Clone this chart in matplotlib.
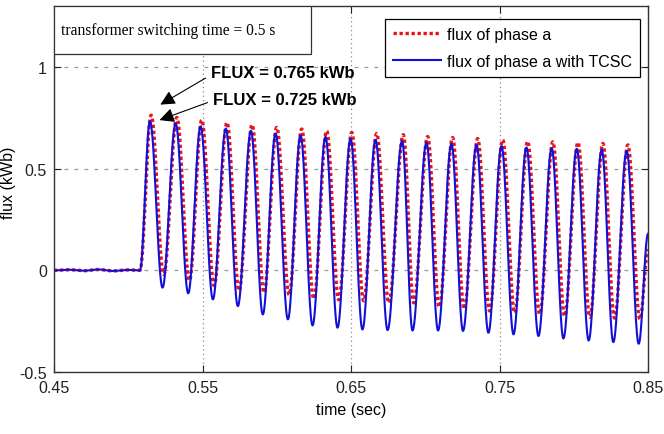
import numpy as np
import matplotlib
matplotlib.use("Agg")
from matplotlib import pyplot as plt

# values
pre_t = [0.45, 0.46, 0.47, 0.48, 0.49, 0.50, 0.5079]
pre_v = [0.0, 0.003, -0.002, 0.004, -0.003, 0.002, 0.0]

peak_t = [0.5146, 0.5319, 0.5487, 0.5657, 0.5826, 0.5992, 0.6160, 0.6328, 0.6497, 0.6665,
          0.6844, 0.7008, 0.7176, 0.7345, 0.7513, 0.7681, 0.7851, 0.8020, 0.8188, 0.8356]
trough_t = [0.5231, 0.5404, 0.5570, 0.5738, 0.5906, 0.6075, 0.6241, 0.6409, 0.6577, 0.6746,
            0.6914, 0.7086, 0.7254, 0.7425, 0.7594, 0.7762, 0.7930, 0.8100, 0.8266, 0.8437]

red_peak = [0.763, 0.752, 0.739, 0.727, 0.716, 0.703, 0.695, 0.686, 0.678, 0.673,
            0.667, 0.658, 0.653, 0.648, 0.642, 0.634, 0.632, 0.629, 0.624, 0.617]
red_trough = [-0.02, -0.05, -0.075, -0.10, -0.11, -0.12, -0.14, -0.145, -0.15, -0.16,
              -0.16, -0.18, -0.19, -0.20, -0.21, -0.215, -0.225, -0.23, -0.235, -0.24]
blue_peak = [0.733, 0.722, 0.708, 0.697, 0.686, 0.673, 0.664, 0.656, 0.648, 0.642,
             0.636, 0.628, 0.622, 0.617, 0.611, 0.604, 0.601, 0.598, 0.593, 0.587]
blue_trough = [-0.085, -0.113, -0.143, -0.176, -0.217, -0.241, -0.271, -0.282, -0.291, -0.294,
               -0.296, -0.296, -0.298, -0.307, -0.315, -0.323, -0.335, -0.345, -0.353, -0.361]
end_t = 0.85
red_end = 0.10
blue_end = 0.18

x_ticks = [0.45, 0.55, 0.65, 0.75, 0.85]
y_ticks = [-0.5, 0, 0.5, 1]


def wave(knot_t, knot_v, n=40):
    # half cosine between each pair of read extrema
    ts, vs = [], []
    for i in range(len(knot_t) - 1):
        s = np.linspace(0, 1, n, endpoint=False)
        ts.append(knot_t[i] + (knot_t[i + 1] - knot_t[i]) * s)
        vs.append(knot_v[i] + (knot_v[i + 1] - knot_v[i]) * (1 - np.cos(np.pi * s)) / 2)
    ts.append([knot_t[-1]])
    vs.append([knot_v[-1]])
    return np.concatenate(ts), np.concatenate(vs)


def knots(peaks, troughs, end_v, lag=0.0):
    t = list(pre_t)
    v = list(pre_v)
    for i in range(len(peaks)):
        t += [peak_t[i] + lag, trough_t[i] + lag]
        v += [peaks[i], troughs[i]]
    t.append(end_t)
    v.append(end_v)
    return t, v


plt.rcParams["font.family"] = ["Liberation Sans", "DejaVu Sans"]
fs = 11.5

fig = plt.figure(figsize=(6.64, 4.35), dpi=100)
ax = fig.add_axes([0.0813, 0.1425, 0.8947, 0.8415])

rt, rv = knots(red_peak, red_trough, red_end, lag=0.0008)
bt, bv = knots(blue_peak, blue_trough, blue_end)
rx, ry = wave(rt, rv)
bx, by = wave(bt, bv)

ax.plot(rx, ry, color="#e8141c", lw=2.4, ls=(0, (1, 0.8)), label="flux of phase a")
ax.plot(bx, by, color="#1010d8", lw=1.5, label="flux of phase a with TCSC")

ax.set_xlim(0.45, 0.85)
ax.set_ylim(-0.5, 1.3)
ax.set_xticks(x_ticks)
ax.set_xticklabels(["%.2f" % x for x in x_ticks])
ax.set_yticks(y_ticks)
ax.set_yticklabels(["-0.5", "0", "0.5", "1"])
ax.tick_params(direction="in", length=5, top=True, right=True, labelsize=fs, colors="#222222")
ax.tick_params(axis="x", pad=6)
ax.tick_params(axis="y", pad=5)

for x in x_ticks[1:-1]:
    ax.axvline(x, color="#888888", lw=0.9, ls=(0, (1, 2.5)), zorder=0)
for y in y_ticks[1:]:
    ax.axhline(y, color="#999999", lw=0.9, ls=(0, (3, 5)), zorder=0)

for s in ax.spines.values():
    s.set_color("#333333")
    s.set_linewidth(1.0)

ax.set_xlabel("time (sec)", fontsize=fs, labelpad=5)
ax.set_ylabel("flux (kWb)", fontsize=fs)
ax.yaxis.set_label_coords(-0.064, 0.52)

leg = ax.legend(loc="upper right", bbox_to_anchor=(0.987, 0.965), fontsize=fs,
                handlelength=3.0, borderpad=0.5, labelspacing=0.75, handletextpad=0.4,
                fancybox=False, framealpha=1, edgecolor="black", borderaxespad=0)
leg.get_frame().set_linewidth(0.9)

# boxed note in the top left corner
ax.add_patch(plt.Rectangle((0, 0.869), 0.433, 0.131, transform=ax.transAxes,
                           facecolor="white", edgecolor="#333333", lw=0.9, zorder=5))
ax.text(0.012, 0.934, "transformer switching time = 0.5 s", transform=ax.transAxes,
        family="Liberation Serif", fontsize=11.2, va="center", ha="left", zorder=6)

arrow = dict(arrowstyle="-|>", color="black", lw=0.8, mutation_scale=22)
ax.annotate("FLUX = 0.765 kWb", xy=(0.520, 0.808), xytext=(0.5555, 0.975),
            fontsize=12, fontweight="bold", va="center", ha="left",
            arrowprops=dict(arrow, relpos=(0, 0.3)))
ax.annotate("FLUX = 0.725 kWb", xy=(0.5193, 0.734), xytext=(0.557, 0.842),
            fontsize=12, fontweight="bold", va="center", ha="left",
            arrowprops=dict(arrow, relpos=(0, 0.4)))

fig.savefig("out.png", dpi=100)
